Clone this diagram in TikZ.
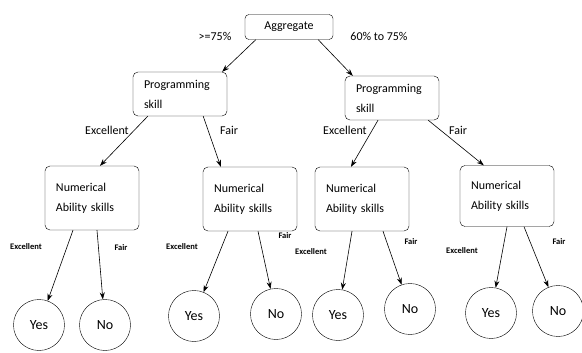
\documentclass[tikz,border=0pt]{standalone}
\usepackage{fontspec}
\setmainfont{Carlito}
\usepackage{tikz}
\usetikzlibrary{arrows.meta, positioning, shapes}
\tikzset{
  every node/.style={font=\fontsize{12}{20}\selectfont},
  testbox/.style={draw, rounded corners=5pt, align=left, text width=72pt,
    inner xsep=11pt, minimum height=44pt},
  numbox/.style={testbox, minimum height=64pt},
  leaf/.style={draw, circle, minimum size=51pt, inner sep=0pt,
    font=\fontsize{14}{16}\selectfont},
  small/.style={font=\bfseries\fontsize{8.5}{10}\selectfont},
  branch/.style={draw, semithick, -{Stealth[length=7pt, width=5pt]}},
  semithick, x=1pt, y=-1pt
}

\begin{document}
\begin{tikzpicture}
\useasboundingbox (0,0) rectangle (582,353);
% root and first split
\node[draw, rounded corners=4pt, minimum width=88pt, minimum height=25pt] (agg) at (289,27) {Aggregate};
\node[testbox] (ps1) at (180,94) {Programming\\skill};
\node[testbox] (ps2) at (392,98) {Programming\\skill};
\node at (215,36) {>=75\%};
\node at (379,36) {60\% to 75\%};
% second level
\node[numbox] (na1) at (92,198) {Numerical\\Ability skills};
\node[numbox] (na2) at (250,199) {Numerical\\Ability skills};
\node[numbox] (na3) at (362,199) {Numerical\\Ability skills};
\node[numbox, minimum height=61pt] (na4) at (507,196) {Numerical\\Ability skills};
\node at (107,130) {Excellent};
\node at (229,130) {Fair};
\node at (345,130) {Excellent};
\node at (458,130) {Fair};
% leaves
\node[leaf] (y1) at (39,325) {Yes};
\node[leaf] (n1) at (105,325) {No};
\node[leaf] (y2) at (194,316) {Yes};
\node[leaf] (n2) at (276,314) {No};
\node[leaf] (y3) at (338,315) {Yes};
\node[leaf] (n3) at (410,309) {No};
\node[leaf] (y4) at (491,313) {Yes};
\node[leaf] (n4) at (558,311) {No};
\node[small] at (26,247) {Excellent};
\node[small] at (121,248) {Fair};
\node[small] at (182,247) {Excellent};
\node[small] at (285,236) {Fair};
\node[small] at (311,252) {Excellent};
\node[small] at (411,242) {Fair};
\node[small] at (462,251) {Excellent};
\node[small] at (559,242) {Fair};

\path ([xshift=11pt]agg.south west) edge[branch] ([xshift=-5pt]ps1.north east)
      ([xshift=-15pt]agg.south east) edge[branch] ([xshift=8pt]ps2.north west)
      ([xshift=15pt]ps1.south west) edge[branch] ([xshift=8pt]na1.north)
      ([xshift=-24pt]ps1.south east) edge[branch] ([xshift=18pt]na2.north west)
      ([xshift=-14pt]ps2.south) edge[branch] ([xshift=-11pt]na3.north)
      ([xshift=-11pt]ps2.south east) edge[branch] ([xshift=24pt]na4.north west)
      ([xshift=-19pt]na1.south) edge[branch] (y1)
      ([xshift=5pt]na1.south) edge[branch] (n1)
      ([xshift=-22pt]na2.south) edge[branch] (y2)
      ([xshift=8pt]na2.south) edge[branch] (n2)
      ([xshift=-10pt]na3.south) edge[branch] (y3)
      ([xshift=21pt]na3.south) edge[branch] (n3)
      (na4.south) edge[branch] (y4)
      ([xshift=17pt]na4.south) edge[branch] (n4);
\end{tikzpicture}
\end{document}
